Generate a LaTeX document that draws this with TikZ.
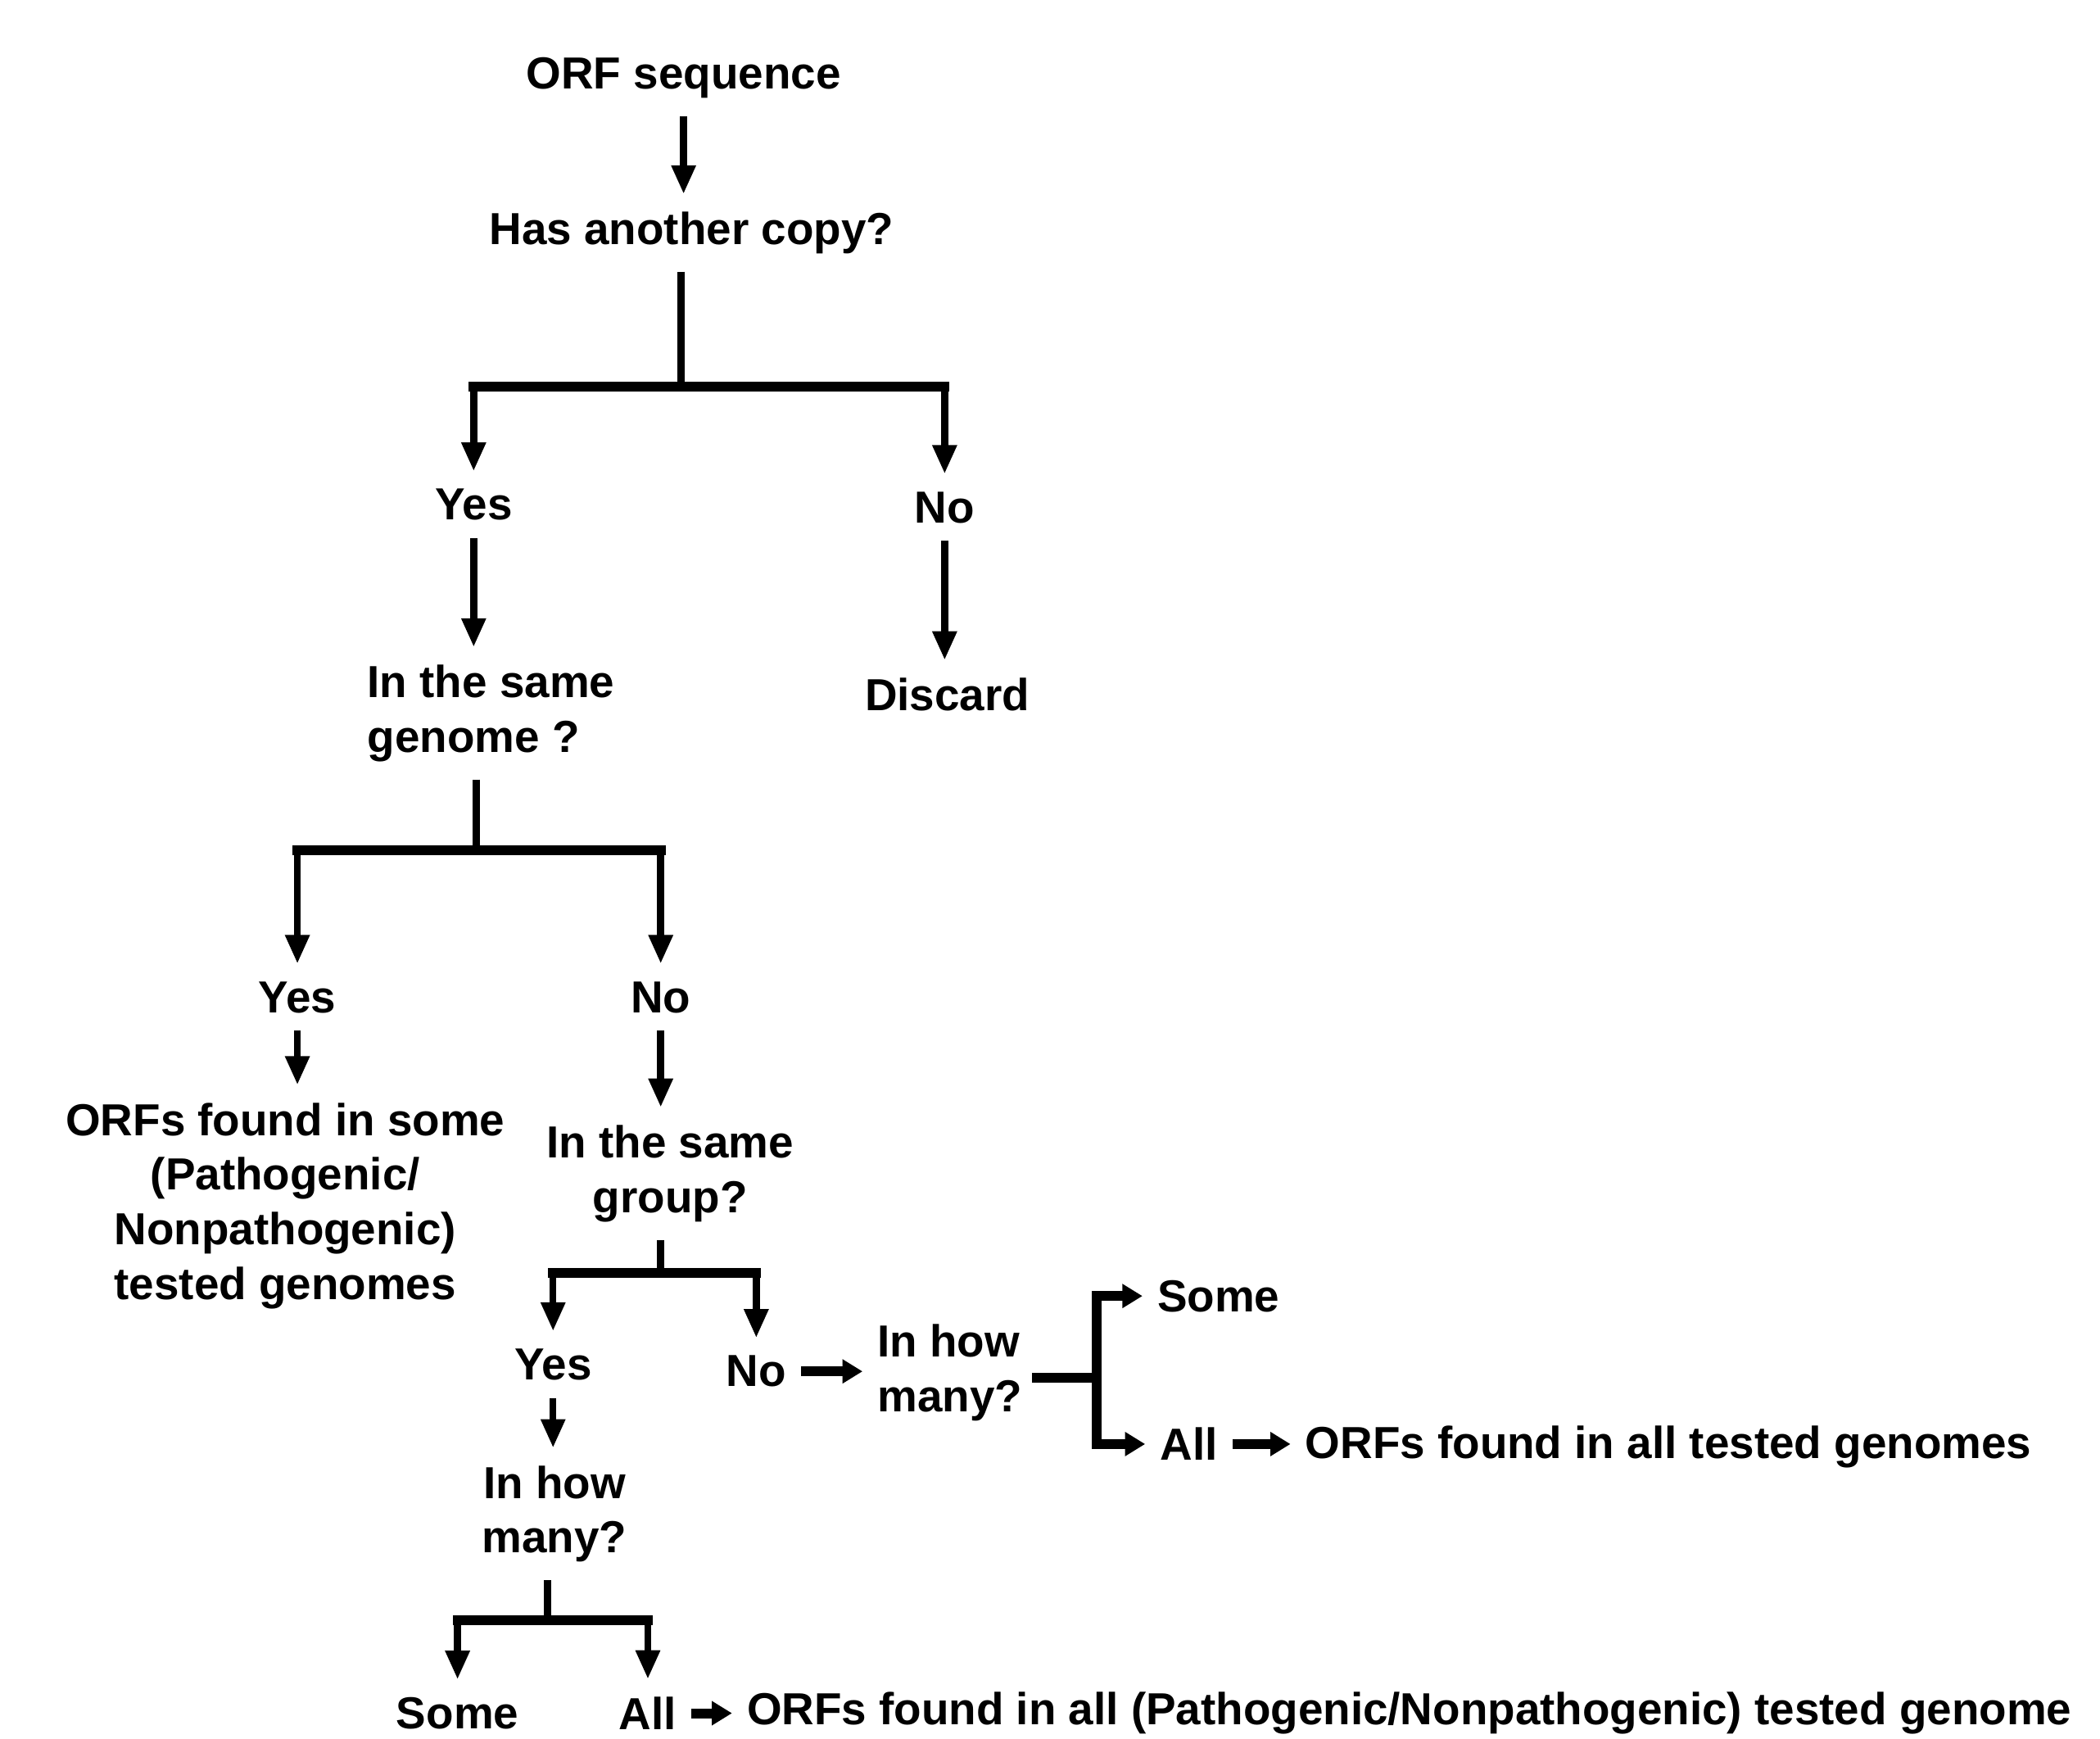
\documentclass[tikz,border=0pt]{standalone}
\usepackage{fontspec}
\setmainfont{Liberation Sans}
\usepackage{tikz}
\usetikzlibrary{arrows.meta, calc}

\begin{document}
\begin{tikzpicture}[line join=miter, x=0.01643cm, y=-0.01643cm,
	txt/.style={font=\bfseries\fontsize{15.6}{19}\selectfont, inner xsep=5pt, inner ysep=6pt},
	stem/.style={-, line width=2.4pt},
	bar/.style={-, line width=3.4pt, line cap=rect},
	arr/.style={-{Triangle[length=10pt,width=8pt]}, line width=2.4pt},
	harr/.style={-{Triangle[length=7pt,width=8pt]}, line width=3.4pt}]
    	\useasboundingbox (0,0) rectangle (1560.6,1292.1);

    	\node[txt] (orf) at (508,58) {ORF sequence};
    	\node[txt] (has) at (514,173) {Has another copy?};
    	\node[txt] (yesA) at (352,375) {Yes};
    	\node[txt] (noA) at (702,377) {No};
    	\node[txt] (discard) at (704,516) {Discard};
    	\node[txt, align=left, anchor=west] (genome) at (262,530) {In the same\\genome ?};
    	\node[txt] (yesB) at (221,741) {Yes};
    	\node[txt] (noB) at (491,741) {No};
    	\node[txt, align=center] (somef) at (212,896) {ORFs found in some\\(Pathogenic/\\Nonpathogenic)\\tested genomes};
    	\node[txt, align=center] (group) at (498,872) {In the same\\group?};
    	\node[txt] (yesC) at (411,1014) {Yes};
    	\node[txt] (noC) at (562,1019) {No};
    	\node[txt, align=left, anchor=west] (howR) at (641,1020) {In how\\many?};
    	\node[txt, anchor=west] (someR) at (849,963) {Some};
    	\node[txt, anchor=west] (allR) at (851,1073) {All};
    	\node[txt, anchor=west] (orfsR) at (959,1075) {ORFs found in all tested genomes};
    	\node[txt, align=center] (howL) at (412,1125) {In how\\many?};
    	\node[txt] (someB) at (340,1273) {Some};
    	\node[txt, anchor=west] (allB) at (449,1273) {All};
    	\node[txt, anchor=west] (orfsB) at (544,1273) {ORFs found in all (Pathogenic/Nonpathogenic) tested genome};

    	\coordinate (sA) at (506,287);
    	\coordinate (sB) at (354,632);
    	\coordinate (sC) at (491,946);
    	\coordinate (sD) at (407,1204);
    	\coordinate (jR) at (815,1024);

		\draw [arr] (orf.south) -- (orf.south |- has.north);
		\draw [stem] (has.south -| sA) -- (sA);
		\draw [bar] (sA -| yesA) -- (sA -| noA);
		\draw [arr] (sA -| yesA) -- (yesA.north);
		\draw [arr] (sA -| noA) -- (noA.north);
		\draw [arr] (yesA.south) -- (yesA.south |- genome.north);
		\draw [arr] (noA.south) -- (noA.south |- discard.north);

		\draw [stem] (genome.south -| sB) -- (sB);
		\draw [bar] (sB -| yesB) -- (sB -| noB);
		\draw [arr] (sB -| yesB) -- (yesB.north);
		\draw [arr] (sB -| noB) -- (noB.north);
		\draw [arr] (yesB.south) -- (yesB.south |- somef.north);
		\draw [arr] (noB.south) -- (noB.south |- group.north);

		\draw [stem] (group.south -| sC) -- (sC);
		\draw [bar] (sC -| yesC) -- (sC -| noC);
		\draw [arr] (sC -| yesC) -- (yesC.north);
		\draw [arr] (sC -| noC) -- (noC.north);
		\draw [harr] (noC.east) -- (noC.east -| howR.west);
		\draw [bar] (howR.east |- jR) -- (jR);
		\draw [harr] (jR) |- (someR.west);
		\draw [harr] (jR) |- (allR.west);
		\draw [harr] (allR.east) -- (allR.east -| orfsR.west);

		\draw [arr] (yesC.south) -- (yesC.south |- howL.north);
		\draw [stem] (howL.south -| sD) -- (sD);
		\draw [bar] (sD -| someB) -- (sD -| allB);
		\draw [arr] (sD -| someB) -- (someB.north);
		\draw [arr] (sD -| allB) -- (allB.north);
		\draw [harr] (allB.east) -- (allB.east -| orfsB.west);
    \end{tikzpicture}
\end{document}
